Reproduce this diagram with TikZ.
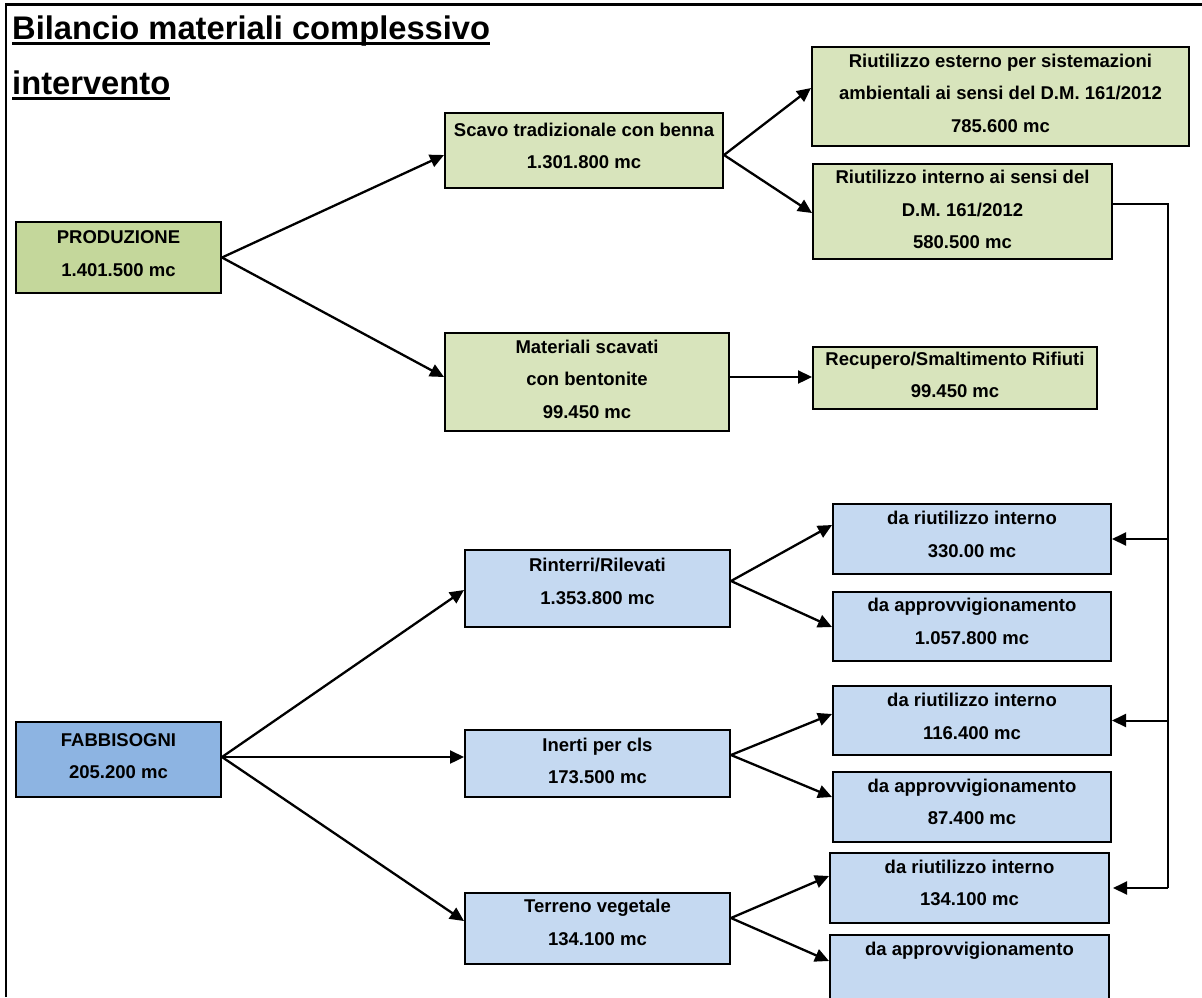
\documentclass[tikz,border=0pt]{standalone}
\usepackage{fontspec}
\setmainfont{Liberation Sans}
\usetikzlibrary{fit,arrows.meta}

\definecolor{prodfill}{HTML}{C4D79B}
\definecolor{greenfill}{HTML}{D8E4BC}
\definecolor{fabbfill}{HTML}{8DB4E2}
\definecolor{bluefill}{HTML}{C5D9F1}

\tikzset{
  box/.style={draw=black, line width=2pt, inner sep=0pt},
  prodbox/.style={box, fill=prodfill},
  gbox/.style={box, fill=greenfill},
  fabbbox/.style={box, fill=fabbfill},
  bbox/.style={box, fill=bluefill},
  boxtext/.style={font=\fontsize{18.5}{32.5}\selectfont\bfseries, align=center, inner sep=0pt, text=black},
  titletext/.style={font=\fontsize{32.7}{40}\selectfont\bfseries, inner sep=0pt, anchor=base west},
  flow/.style={line width=2.3pt, -{Triangle[length=14pt,width=13pt]}},
  bus/.style={line width=1.8pt},
}

% box from (x1,y1) to (x2,y2) with its text block centred at height ty
\newcommand\flowbox[8]{%
  \node[#6, fit={(#2,#3) (#4,#5)}] (#1) {};
  \node[boxtext] (#1-text) at ({(#2+#4)/2},#7) {#8};
}

\begin{document}
\begin{tikzpicture}[x=1pt, y=-1pt]
\useasboundingbox (0,0) rectangle (1202,997);
\clip (0,0) rectangle (1202,997);

% sheet frame
\draw[line width=2.2pt] (6,997) -- (6,4.5) -- (1202,4.5);

% title
\node[titletext] (title1) at (12,39.5) {Bilancio materiali complessivo};
\node[titletext] (title2) at (12,94) {intervento};
\draw[line width=3pt] ([yshift=-4pt]title1.base west) -- ([yshift=-4pt]title1.base east);
\draw[line width=3pt] ([yshift=-4.5pt]title2.base west) -- ([yshift=-4.5pt]title2.base east);

% production side
\flowbox{prod}{16}{222}{221}{293}{prodbox}{253.5}{PRODUZIONE\\1.401.500 mc}
\flowbox{scavo}{445}{113}{723}{188}{gbox}{146}{Scavo tradizionale con benna\\1.301.800 mc}
\flowbox{riest}{812}{47}{1189}{146}{gbox}{93}{Riutilizzo esterno per sistemazioni\\ambientali ai sensi del D.M. 161/2012\\785.600 mc}
\flowbox{riint}{813}{164}{1112}{259}{gbox}{209.7}{Riutilizzo interno ai sensi del\\D.M. 161/2012\\580.500 mc}
\flowbox{mat}{445}{333}{729}{431}{gbox}{379}{Materiali scavati\\con bentonite\\99.450 mc}
\flowbox{recup}{813}{347}{1097}{409}{gbox}{375}{Recupero/Smaltimento Rifiuti\\99.450 mc}

% requirements side
\flowbox{fabb}{16}{722}{221}{797}{fabbbox}{756}{FABBISOGNI\\205.200 mc}
\flowbox{rint}{465}{550}{730}{627}{bbox}{581.5}{Rinterri/Rilevati\\1.353.800 mc}
\flowbox{r1}{833}{504}{1111}{574}{bbox}{534.5}{da riutilizzo interno\\330.00 mc}
\flowbox{a1}{833}{592}{1111}{661}{bbox}{621.5}{da approvvigionamento\\1.057.800 mc}
\flowbox{inerti}{465}{730}{730}{797}{bbox}{761}{Inerti per cls\\173.500 mc}
\flowbox{r2}{833}{686}{1111}{755}{bbox}{716.5}{da riutilizzo interno\\116.400 mc}
\flowbox{a2}{833}{772}{1111}{842}{bbox}{802}{da approvvigionamento\\87.400 mc}
\flowbox{terr}{465}{893}{730}{964}{bbox}{922.5}{Terreno vegetale\\134.100 mc}
\flowbox{r3}{830}{853}{1109}{923}{bbox}{883}{da riutilizzo interno\\134.100 mc}
\flowbox{a3}{830}{935}{1109}{1030}{bbox}{951}{da approvvigionamento}

% production flows
\draw[flow] (prod.east) -- ([yshift=-4.5pt]scavo.west);
\draw[flow] (prod.east) -- ([yshift=5pt]mat.west);
\draw[flow] ([yshift=-4.5pt]scavo.east) -- ([yshift=8.5pt]riest.west);
\draw[flow] ([yshift=-4.5pt]scavo.east) -- ([yshift=-1.5pt]riint.west);
\draw[flow] ([yshift=5pt]mat.east) -- ([yshift=1pt]recup.west);

% requirement flows
\draw[flow] ([yshift=2.5pt]fabb.east) -- ([yshift=-1.5pt]rint.west);
\draw[flow] ([yshift=2.5pt]fabb.east) -- ([yshift=6.5pt]inerti.west);
\draw[flow] ([yshift=2.5pt]fabb.east) -- ([yshift=7.5pt]terr.west);
\draw[flow] ([yshift=7.5pt]rint.east) -- ([yshift=14pt]r1.west);
\draw[flow] ([yshift=7.5pt]rint.east) -- ([yshift=-0.5pt]a1.west);
\draw[flow] ([yshift=8.5pt]inerti.east) -- ([yshift=6.5pt]r2.west);
\draw[flow] ([yshift=8.5pt]inerti.east) -- ([yshift=10pt]a2.west);
\draw[flow] ([yshift=10.5pt]terr.east) -- ([yshift=12pt]r3.west);
\draw[flow] ([yshift=10.5pt]terr.east) -- ([yshift=21.5pt]a3.west);

% internal reuse feeding the requirements
\coordinate (busx) at (1168,0);
\draw[bus] ([yshift=7.5pt]riint.east) -| (busx |- r3.east);
\draw[flow, line width=2pt] (busx |- r1.east) -- (r1.east);
\draw[flow, line width=2pt] (busx |- r2.east) -- (r2.east);
\draw[flow, line width=2pt, shorten >=3pt] (busx |- r3.east) -- (r3.east);
\end{tikzpicture}
\end{document}
